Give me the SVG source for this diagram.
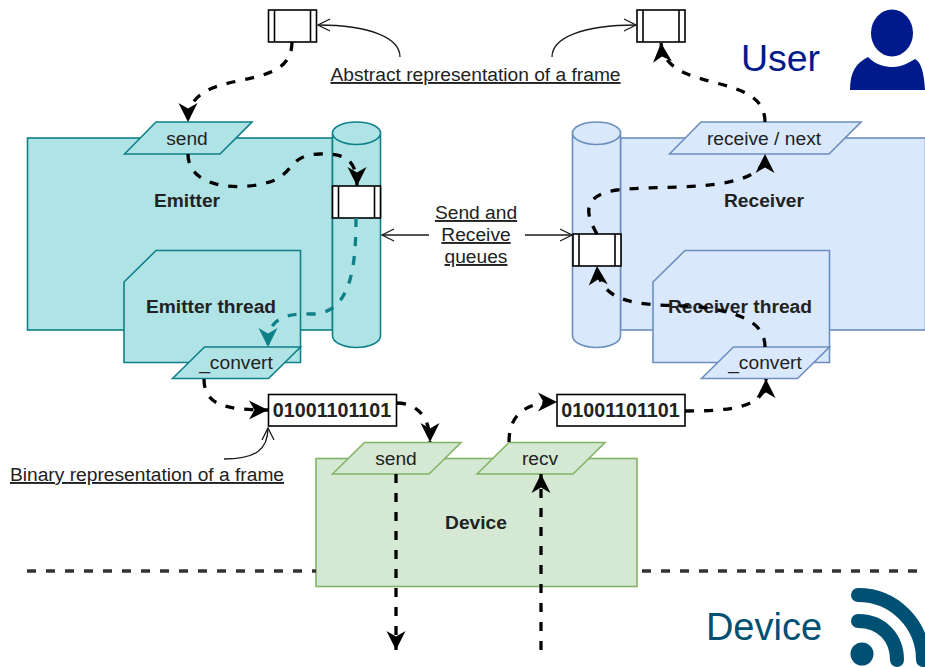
<svg xmlns="http://www.w3.org/2000/svg" width="925" height="668" viewBox="0 0 925 668">
<style>
text{font-family:"Liberation Sans",Arial,sans-serif;font-size:19.200px;fill:#222;text-anchor:middle}
.b{font-weight:bold}
.u{text-decoration:underline}
.t{fill:#b0e3e6;stroke:#0e8088;stroke-width:1.600}
.bl{fill:#dae8fc;stroke:#6c8ebf;stroke-width:1.600}
.g{fill:#d5e8d4;stroke:#82b366;stroke-width:1.600}
.w{fill:#fff;stroke:#000;stroke-width:1.600}
.l{fill:none;stroke:#000;stroke-width:1.600}
.d{fill:none;stroke:#000;stroke-width:3.300;stroke-dasharray:9 10;marker-end:url(#a)}
.dt{fill:none;stroke:#0e8088;stroke-width:3.300;stroke-dasharray:9 10;marker-end:url(#at)}
.o{fill:none;stroke:#1a1a1a;stroke-width:1.300;marker-end:url(#o)}
.s{fill:none;stroke:#333;stroke-width:3.300;stroke-dasharray:9 10}
</style>
<defs>
<marker id="a" markerUnits="userSpaceOnUse" markerWidth="22" markerHeight="22" refX="19" refY="10" orient="auto"><path d="M0 0.500 L19 10 L0 19.500 L5.500 10 Z" fill="#000"/></marker>
<marker id="at" markerUnits="userSpaceOnUse" markerWidth="22" markerHeight="22" refX="19" refY="10" orient="auto"><path d="M0 0.500 L19 10 L0 19.500 L5.500 10 Z" fill="#0e8088"/></marker>
<marker id="o" markerUnits="userSpaceOnUse" markerWidth="16" markerHeight="16" refX="13" refY="8" orient="auto"><path d="M1 2 L13 8 L1 14" fill="none" stroke="#1a1a1a" stroke-width="1.300"/></marker>
</defs>

<g id="emitter">
<rect class="t" x="27.500" y="138" width="305" height="192"/>
<text class="b" x="187" y="207">Emitter</text>
</g>
<g id="emitter-queue">
<path class="t" d="M332.500 133V336C332.500 342 343 347.500 356.500 347.500S380.500 342 380.500 336V133C380.500 127 370 122 356.500 122S332.500 127 332.500 133ZM332.500 133C332.500 139 343 144.500 356.500 144.500S380.500 139 380.500 133"/>
</g>
<g id="emitter-send">
<polygon class="t" points="124.500,154 156,122 252,122 220,154"/>
<text x="187" y="145">send</text>
</g>
<g id="emitter-frame">
<rect class="w" x="332.500" y="186" width="48" height="32"/>
<path class="l" d="M338.500 186V218M374.500 186V218"/>
</g>
<g id="emitter-thread">
<polygon class="t" points="124,282 156,250.500 300.500,250.500 300.500,362.500 124,362.500"/>
<text class="b" x="211" y="313">Emitter thread</text>
</g>
<g id="emitter-convert">
<polygon class="t" points="172.500,378.500 204.500,347 300.500,347 268.500,378.500"/>
<text x="236" y="369">_convert</text>
</g>

<g id="receiver">
<rect class="bl" x="620.500" y="138" width="305" height="192"/>
<text class="b" x="764" y="207">Receiver</text>
</g>
<g id="receiver-queue">
<path class="bl" d="M572.500 133V336C572.500 342 583 347.500 596.500 347.500S620.500 342 620.500 336V133C620.500 127 610 122 596.500 122S572.500 127 572.500 133ZM572.500 133C572.500 139 583 144.500 596.500 144.500S620.500 139 620.500 133"/>
</g>
<g id="receiver-next">
<polygon class="bl" points="669.500,154 701,122 861,122 829,154"/>
<text x="764" y="145">receive / next</text>
</g>
<g id="receiver-frame">
<rect class="w" x="573" y="234" width="48" height="32"/>
<path class="l" d="M579 234V266M615 234V266"/>
</g>
<g id="receiver-thread">
<polygon class="bl" points="653,282 685,250.500 829.500,250.500 829.500,362.500 653,362.500"/>
<text class="b" x="740" y="313">Receiver thread</text>
</g>
<g id="receiver-convert">
<polygon class="bl" points="701.500,378.500 733.500,347 829.500,347 797.500,378.500"/>
<text x="765" y="369">_convert</text>
</g>

<g id="device">
<rect class="g" x="316" y="458.500" width="321" height="128"/>
<text class="b" x="476" y="529">Device</text>
</g>
<g id="device-send">
<polygon class="g" points="332.500,474 364.500,442.500 461,442.500 429,474"/>
<text x="396" y="465">send</text>
</g>
<g id="device-recv">
<polygon class="g" points="477,474 509,442.500 605,442.500 573,474"/>
<text x="540" y="465">recv</text>
</g>

<g id="frame-top-left">
<rect class="w" x="268.500" y="10" width="48" height="32"/>
<path class="l" d="M274.500 10V42M310.500 10V42"/>
</g>
<g id="frame-top-right">
<rect class="w" x="637" y="10" width="48" height="32"/>
<path class="l" d="M643 10V42M679 10V42"/>
</g>
<g id="binary-left">
<rect class="w" x="268.500" y="394.500" width="128" height="31.500"/>
<text class="b" x="332" y="417" style="font-size:19.700px">01001101101</text>
</g>
<g id="binary-right">
<rect class="w" x="557" y="394.500" width="128" height="31.500"/>
<text class="b" x="620.500" y="417" style="font-size:19.700px">01001101101</text>
</g>

<g id="label-abstract"><text class="u" x="475.500" y="81">Abstract representation of a frame</text></g>
<g id="label-queues">
<text class="u" x="476" y="219">Send and</text>
<text class="u" x="476" y="241">Receive</text>
<text class="u" x="476" y="263">queues</text>
</g>
<g id="label-binary"><text class="u" x="147" y="481">Binary representation of a frame</text></g>

<g id="user">
<text x="780.500" y="71" style="font-size:37.500px;fill:#001a8c">User</text>
<ellipse cx="892" cy="33" rx="21" ry="23.500" fill="#001a8c"/>
<path d="M850 90C850 72 856 63 868 57C876 65 885 67 893 67C902 67 908 63 915 59C921 62 924 72 925 90Z" fill="#001a8c"/>
</g>
<g id="device-label">
<text x="764" y="640" style="font-size:38px;fill:#005073">Device</text>
<circle cx="862" cy="654" r="11.500" fill="#005073"/>
<path d="M858 621C882 621 897 638 897 660M858 595C895 595 923 625 923 660" fill="none" stroke="#005073" stroke-width="14" stroke-linecap="round"/>
</g>

<g id="connectors">
<path class="d" d="M292 42C292 98 188 62 188 122"/>
<path class="d" d="M188 154C188 190 245 192 275 180C295 170 290 155 320 154C345 153 357 160 357 186"/>
<path class="dt" d="M356 218C356 270 350 315 310 314C275 313 268 325 268 347"/>
<path class="d" d="M204 379C204 405 225 410 268 410"/>
<path class="d" d="M397 403C415 403 430 415 430 442"/>
<path class="d" d="M509 442C509 415 525 402 557 402"/>
<path class="d" d="M685 411C730 411 766 408 766 379"/>
<path class="d" d="M765 347C765 320 735 312 700 307C660 303 600 312 597 266"/>
<path class="d" d="M597 234C583 210 585 195 617 190C660 184 765 195 765 154"/>
<path class="d" d="M765 122C765 70 665 95 661 43"/>
<path class="d" d="M396 474V650"/>
<path class="d" d="M541 650V474"/>
<path class="o" d="M400 57C400 38 370 25 318 25"/>
<path class="o" d="M552 57C552 38 582 25 636 25"/>
<path class="o" d="M429 235H382"/>
<path class="o" d="M525 235H572"/>
<path class="o" d="M224 459C255 459 268 450 268 428"/>
<path class="s" d="M27 571H316M642 571H925"/>
</g>
</svg>
